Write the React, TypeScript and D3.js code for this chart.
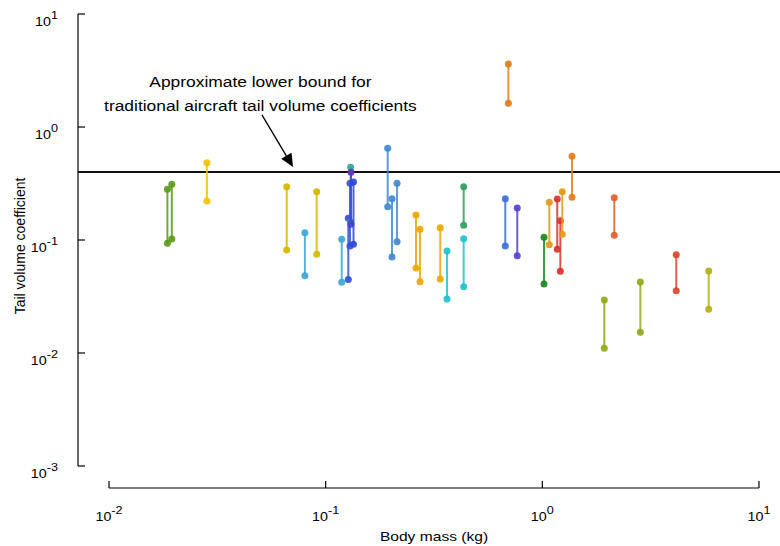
import React, { useEffect, useRef } from 'react';
import * as d3 from 'd3';

// body mass (kg) of each specimen, with the high / low estimate of its tail volume coefficient
const massKg = [
    0.0186, 0.0195, 0.0283, 0.0661, 0.0802, 0.0909, 0.1186, 0.1272, 0.1304, 0.1309,
    0.1295, 0.1344, 0.1933, 0.2024, 0.2135, 0.2611, 0.2725, 0.338, 0.363, 0.4335,
    0.4335, 0.6745, 0.766, 0.697, 1.018, 1.077, 1.172, 1.211, 1.236, 1.371,
    2.148, 1.932, 2.833, 4.15, 5.86
];
const tvcHigh = [
    0.281, 0.311, 0.483, 0.296, 0.116, 0.267, 0.1014, 0.1556, 0.44, 0.397,
    0.318, 0.326, 0.648, 0.232, 0.318, 0.1665, 0.1244, 0.1285, 0.0799, 0.296,
    0.1027, 0.232, 0.192, 3.61, 0.1057, 0.216, 0.2306, 0.148, 0.2676, 0.5505,
    0.236, 0.0294, 0.0425, 0.0741, 0.0532
];
const tvcLow = [
    0.0935, 0.102, 0.221, 0.0816, 0.0483, 0.0747, 0.0422, 0.0447, 0.144, 0.1377,
    0.0885, 0.0916, 0.197, 0.0707, 0.0966, 0.0565, 0.0428, 0.0452, 0.0301, 0.135,
    0.0386, 0.0885, 0.0726, 1.62, 0.0408, 0.0909, 0.0827, 0.0528, 0.1123, 0.2387,
    0.11, 0.011, 0.0153, 0.0356, 0.0244
];
const colors = [
    '#5b9a18', '#5b9a18', '#f7c000', '#d6b700', '#39a7d6', '#d6b700', '#39a7d6', '#3450d0', '#2fa88c', '#5a35c8',
    '#3552d4', '#3048d4', '#4189d2', '#4189d2', '#4189d2', '#eea600', '#eea600', '#eea600', '#22c0d0', '#2f9e5e',
    '#22c0d0', '#3c70d8', '#5343d0', '#e07c1c', '#1a8a1e', '#e49a14', '#d8322e', '#d8322e', '#e49a14', '#e07c1c',
    '#e0602c', '#8fa818', '#8fa818', '#d8482c', '#b5b010'
];

const xTicks = [0.01, 0.1, 1, 10];
const yTicks = [0.001, 0.01, 0.1, 1, 10];
const lowerBound = 0.4;
const noteLines = ['Approximate lower bound for', 'traditional aircraft tail volume coefficients'];
const noteAt = { mass: 0.05, tvc: [2.26, 1.39] };
const arrowFrom = { mass: 0.0508, tvc: 1.28 };
const arrowTo = { mass: 0.0707, tvc: 0.443 };

const W = 780;
const H = 546;
const FONT = '"Liberation Sans", Arial, sans-serif';
const SX = 1.2; // the reference text is a bit stretched sideways
const SX_TICK = 1.1;

const App = () => {
    const svgRef = useRef<SVGSVGElement | null>(null);

    useEffect(() => {
        if (!svgRef.current) return;
        const svg = d3.select(svgRef.current);
        svg.selectAll('*').remove();

        const x = d3.scaleLog().domain([0.01, 10]).range([109, 759]);
        const y = d3.scaleLog().domain([0.001, 10]).range([466, 14]);
        const yAxisX = 78;
        const xAxisY = 488;

        const expLabel = (sel, v: number) => {
            const e = Math.round(Math.log10(v));
            sel.append('tspan').text('10');
            sel.append('tspan')
                .attr('dy', -7)
                .style('font-size', '11.5px')
                .text(String(e));
        };

        // y axis
        const gy = svg.append('g');
        gy.append('line')
            .attr('x1', yAxisX).attr('x2', yAxisX)
            .attr('y1', y(10)).attr('y2', y(0.001))
            .attr('stroke', '#000').attr('stroke-width', 1.2);
        yTicks.forEach(t => {
            gy.append('line')
                .attr('x1', yAxisX).attr('x2', yAxisX + 7)
                .attr('y1', y(t)).attr('y2', y(t))
                .attr('stroke', '#000').attr('stroke-width', 1.2);
            const txt = gy.append('text')
                .attr('transform', `translate(58,${y(t) + 12}) scale(${SX_TICK},1)`)
                .attr('text-anchor', 'end')
                .style('font-family', FONT)
                .style('font-size', '13px');
            expLabel(txt, t);
        });

        // x axis
        const gx = svg.append('g');
        gx.append('line')
            .attr('x1', x(0.01)).attr('x2', x(10))
            .attr('y1', xAxisY).attr('y2', xAxisY)
            .attr('stroke', '#000').attr('stroke-width', 1.2);
        xTicks.forEach(t => {
            gx.append('line')
                .attr('x1', x(t)).attr('x2', x(t))
                .attr('y1', xAxisY).attr('y2', xAxisY - 7)
                .attr('stroke', '#000').attr('stroke-width', 1.2);
            const txt = gx.append('text')
                .attr('transform', `translate(${x(t)},521) scale(${SX_TICK},1)`)
                .attr('text-anchor', 'middle')
                .style('font-family', FONT)
                .style('font-size', '13px');
            expLabel(txt, t);
        });

        // axis titles
        svg.append('text')
            .attr('transform', `translate(434,541) scale(${SX},1)`)
            .attr('text-anchor', 'middle')
            .style('font-family', FONT)
            .style('font-size', '13px')
            .text('Body mass (kg)');
        svg.append('text')
            .attr('transform', `translate(25,246) rotate(-90)`)
            .attr('text-anchor', 'middle')
            .style('font-family', FONT)
            .style('font-size', '14px')
            .text('Tail volume coefficient');

        // lower bound line
        svg.append('line')
            .attr('x1', yAxisX).attr('x2', W)
            .attr('y1', y(lowerBound)).attr('y2', y(lowerBound))
            .attr('stroke', '#111').attr('stroke-width', 2);

        // annotation + arrow
        noteLines.forEach((s, i) => {
            svg.append('text')
                .attr('transform', `translate(${x(noteAt.mass)},${y(noteAt.tvc[i])}) scale(${SX},1)`)
                .attr('text-anchor', 'middle')
                .style('font-family', FONT)
                .style('font-size', '14.5px')
                .text(s);
        });
        const ax0 = x(arrowFrom.mass), ay0 = y(arrowFrom.tvc);
        const ax1 = x(arrowTo.mass), ay1 = y(arrowTo.tvc);
        const ang = Math.atan2(ay1 - ay0, ax1 - ax0);
        const headLen = 13, headW = 6;
        const bx = ax1 - headLen * Math.cos(ang), by = ay1 - headLen * Math.sin(ang);
        svg.append('line')
            .attr('x1', ax0).attr('y1', ay0).attr('x2', bx).attr('y2', by)
            .attr('stroke', '#000').attr('stroke-width', 1.3);
        svg.append('path')
            .attr('d', d3.line()([
                [ax1, ay1],
                [bx + headW * Math.sin(ang), by - headW * Math.cos(ang)],
                [bx - headW * Math.sin(ang), by + headW * Math.cos(ang)]
            ]) + 'Z')
            .attr('fill', '#000');

        // segments
        const g = svg.append('g');
        massKg.forEach((m, i) => {
            const seg = g.append('g');
            seg.append('line')
                .attr('x1', x(m)).attr('x2', x(m))
                .attr('y1', y(tvcHigh[i])).attr('y2', y(tvcLow[i]))
                .attr('stroke', colors[i])
                .attr('stroke-width', 2)
                .attr('stroke-opacity', 0.85);
            seg.selectAll('circle')
                .data([tvcHigh[i], tvcLow[i]])
                .join('circle')
                .attr('cx', x(m))
                .attr('cy', d => y(d))
                .attr('r', 3.5)
                .attr('fill', colors[i])
                .attr('fill-opacity', 0.92);
        });
    }, []);

    return (
        <svg
            ref={svgRef}
            width={W}
            height={H}
            style={{ position: 'absolute', left: 0, top: 0, background: '#fff' }}
        />
    );
};

export default App;
